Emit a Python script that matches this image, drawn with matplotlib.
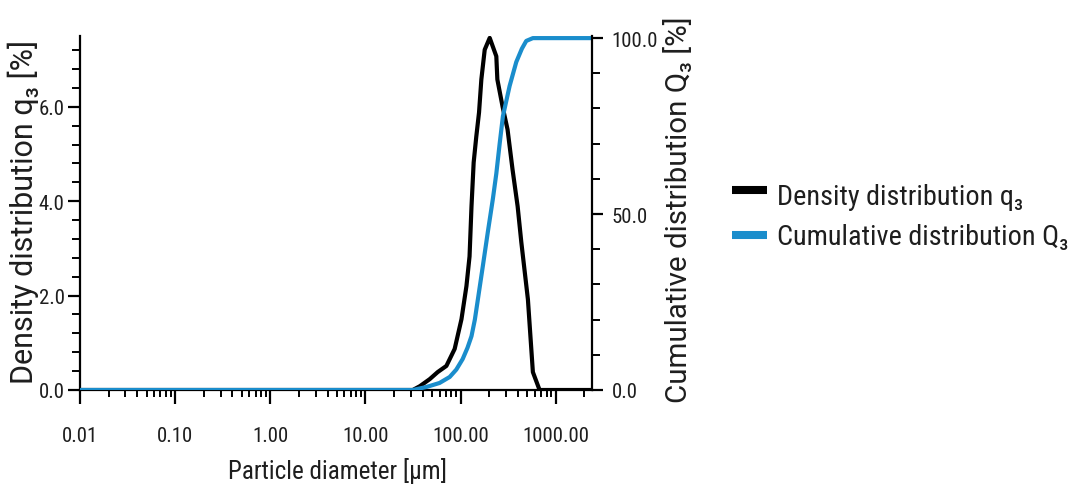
import matplotlib
matplotlib.use("Agg")
import matplotlib.pyplot as plt
from matplotlib import font_manager as fm
from matplotlib.ticker import FixedLocator, LogLocator, NullFormatter
from matplotlib.lines import Line2D

# ---- data ----
q3_diam = [0.01, 31.4, 37.2, 47.3, 57.4, 70.8, 86.5, 102, 115, 124, 130, 137, 146, 156,
           165, 179, 202, 237, 243, 276, 311, 351, 397, 434, 509, 574, 675, 2400]
q3_vals = [0.0, 0.0, 0.08, 0.23, 0.38, 0.51, 0.87, 1.50, 2.20, 2.83, 3.89, 4.82, 5.37, 5.88,
           6.58, 7.21, 7.46, 7.07, 6.58, 6.00, 5.52, 4.67, 3.89, 3.13, 1.92, 0.38, 0.0, 0.0]

Q3_diam = [0.01, 31.4, 43.6, 60.0, 76.7, 90.0, 105, 118, 130, 141, 152, 171, 193, 218, 237,
           257, 278, 327, 384, 440, 489, 574, 2400]
Q3_vals = [0.0, 0.0, 0.85, 2.0, 3.7, 5.8, 8.8, 12.0, 15.3, 20.0, 25.9, 35.2, 44.9, 54.3, 61.5,
           70.0, 77.8, 86.4, 93.2, 97.0, 99.2, 100.0, 100.0]

x_ticks = [0.01, 0.1, 1, 10, 100, 1000]
x_ticklabels = ["0.01", "0.10", "1.00", "10.00", "100.00", "1000.00"]
yl_ticks = [0, 2, 4, 6]
yl_labels = ["0.0", "2.0", "4.0", "6.0"]
yr_ticks = [0, 50, 100]
yr_labels = ["0.0", "50.0", "100.0"]
legend_labels = ["Density distribution q₃", "Cumulative distribution Q₃"]

BLACK = "#000000"
BLUE = "#1a8dcc"
TXT = "#1e1e1e"
W, H = 1070, 489

# choose a condensed face if one is installed
names = {f.name for f in fm.fontManager.ttflist}
cond = None
for cand in ["Liberation Sans Narrow", "Roboto Condensed", "Open Sans Condensed",
             "Noto Sans Condensed", "DejaVu Sans Condensed"]:
    if cand in names:
        cond = cand
        break
if cond is None:
    cond = "Roboto" if "Roboto" in names else "DejaVu Sans"
NARROW = [cond, "DejaVu Sans"]
REG = ["Roboto" if "Roboto" in names else "DejaVu Sans", "DejaVu Sans"]


def fx(px):
    return px / W


def fy(py):
    return 1 - py / H


fig = plt.figure(figsize=(W / 100, H / 100), dpi=100)
ax = fig.add_axes([fx(80), fy(391), (592 - 80) / W, (391 - 37) / H])
ax2 = ax.twinx()

ax.plot(q3_diam, q3_vals, color=BLACK, lw=3.0, solid_joinstyle="round", zorder=3)
ax2.plot(Q3_diam, Q3_vals, color=BLUE, lw=3.0, solid_joinstyle="round", zorder=2)

ax.set_xscale("log")
ax.set_xlim(0.01, 2400)
ax.set_ylim(0, 7.5)
ax2.set_ylim(0, 100.6)

ax.xaxis.set_major_locator(FixedLocator(x_ticks))
ax.set_xticklabels(x_ticklabels)
ax.xaxis.set_minor_locator(LogLocator(base=10, subs=range(2, 10), numticks=30))
ax.xaxis.set_minor_formatter(NullFormatter())

ax.set_yticks(yl_ticks)
ax.set_yticklabels(yl_labels)
ax.set_yticks([0.4 * i for i in range(0, 19)], minor=True)
ax2.set_yticks(yr_ticks)
ax2.set_yticklabels(yr_labels)
ax2.set_yticks(list(range(0, 101, 10)), minor=True)

for a in (ax, ax2):
    a.spines["top"].set_visible(False)
    for s in a.spines.values():
        s.set_linewidth(1.6)
ax.spines["right"].set_visible(False)
ax2.spines["left"].set_visible(False)
ax2.spines["bottom"].set_visible(False)

ax.tick_params(axis="x", which="major", length=10, width=1.6, direction="out", pad=16)
ax.tick_params(axis="x", which="minor", length=5, width=1.4, direction="out")
ax.tick_params(axis="y", which="major", length=9, width=1.6, direction="out", pad=2)
ax.tick_params(axis="y", which="minor", length=6, width=1.4, direction="out")
ax2.tick_params(axis="y", which="major", length=8, width=1.6, direction="out", pad=6)
ax2.tick_params(axis="y", which="minor", length=6, width=1.4, direction="out")

ticklabs = ax.get_xticklabels() + ax.get_yticklabels() + ax2.get_yticklabels()
for lab in ticklabs:
    lab.set_fontfamily(NARROW)
    lab.set_fontsize(15)
    lab.set_color(TXT)

xl = fig.text(fx(337), fy(479), "Particle diameter [µm]", ha="center", va="baseline",
              fontsize=16, family=NARROW, color=TXT)
yl = fig.text(fx(23), fy(212), "Density distribution q₃ [%]", ha="center", va="center",
              rotation=90, fontsize=15, family=REG, color=TXT)
yr = fig.text(fx(679), fy(210), "Cumulative distribution Q₃ [%]", ha="center", va="center",
              rotation=90, fontsize=15, family=REG, color=TXT)

# manual legend
fig.add_artist(Line2D([fx(732), fx(767)], [fy(191), fy(191)], color=BLACK, lw=5.8,
                      solid_capstyle="butt"))
fig.add_artist(Line2D([fx(732), fx(767)], [fy(235.5), fy(235.5)], color=BLUE, lw=5.8,
                      solid_capstyle="butt"))
lg1 = fig.text(fx(777), fy(205), legend_labels[0], ha="left", va="baseline",
               fontsize=19, family=NARROW, color=TXT)
lg2 = fig.text(fx(777), fy(245), legend_labels[1], ha="left", va="baseline",
               fontsize=19, family=NARROW, color=TXT)

# fit text sizes to the lengths measured on the reference
fig.canvas.draw()
r = fig.canvas.get_renderer()


def fit(t, target, vertical=False):
    bb = t.get_window_extent(r)
    cur = bb.height if vertical else bb.width
    t.set_fontsize(t.get_fontsize() * target / cur)


fit(xl, 220)
fit(yl, 345, vertical=True)
fit(yr, 387, vertical=True)
fit(lg2, 291)
lg1.set_fontsize(lg2.get_fontsize())
bb = ax.get_xticklabels()[-1].get_window_extent(r)
tsz = 15 * 67 / bb.width
ax.tick_params(axis="both", labelsize=tsz)
ax2.tick_params(axis="y", labelsize=tsz)
for lab in ax.get_xticklabels() + ax.get_yticklabels() + ax2.get_yticklabels():
    lab.set_fontfamily(NARROW)
    lab.set_color(TXT)

fig.savefig("out.png", dpi=100)
